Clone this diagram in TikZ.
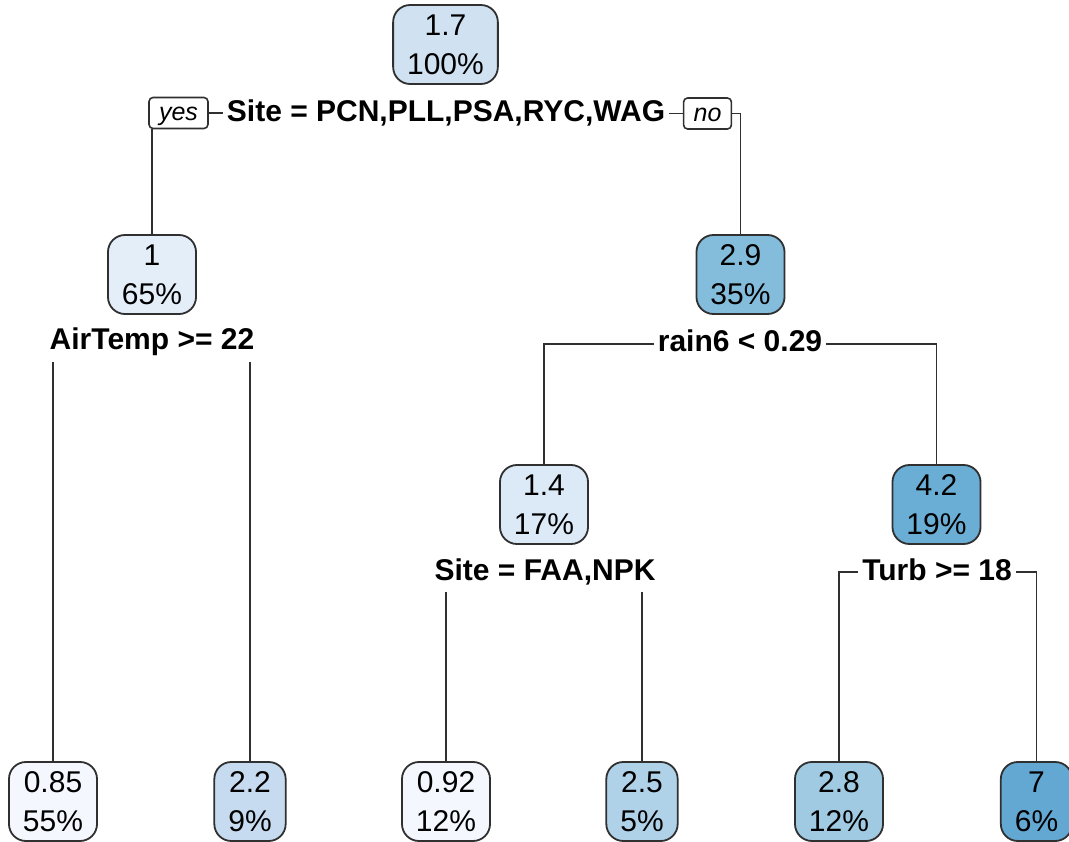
\documentclass[tikz,border=0pt]{standalone}
\usepackage{fontspec}
\setmainfont{Liberation Sans}
\definecolor{c0}{HTML}{D0E1F2}
\definecolor{c1}{HTML}{E4EEF9}
\definecolor{c2}{HTML}{84BCDB}
\definecolor{c3}{HTML}{DCE9F6}
\definecolor{c4}{HTML}{6AAED6}
\definecolor{f1}{HTML}{F4F8FE}
\definecolor{f2}{HTML}{C6DBEF}
\definecolor{f3}{HTML}{F4F8FE}
\definecolor{f4}{HTML}{B0D2E8}
\definecolor{f5}{HTML}{9FCAE1}
\definecolor{f6}{HTML}{63A8D3}
\definecolor{edgec}{HTML}{303030}
\begin{document}
\begin{tikzpicture}[x=1pt,y=-1pt,
  box/.style={draw=edgec, line width=1.8pt, rounded corners=17pt, minimum height=79pt,
    inner xsep=14pt, inner ysep=0pt, align=center, font=\fontsize{30}{39}\selectfont},
  split/.style={font=\bfseries\fontsize{30}{36}\selectfont, text height=22pt, text depth=6pt,
    inner xsep=4pt, inner ysep=6pt},
  yn/.style={draw=edgec, line width=1.6pt, rounded corners=4pt, fill=white,
    font=\itshape\fontsize{25}{30}\selectfont, minimum height=31pt, inner xsep=10pt, inner ysep=0pt,
    text height=17pt, text depth=1pt},
  conn/.style={draw=edgec, line width=1.8pt}]
\useasboundingbox (0,0) rectangle (1069,842);
% nodes
\node[box, fill=c0] (n0) at (445.5,44.5) {1.7\\100\%};
\node[split] (s0) at (446,114) {Site = PCN,PLL,PSA,RYC,WAG};
\node[yn] (yes) at (178.5,113) {yes};
\node[yn] (no) at (707.5,113.5) {no};
\node[box, fill=c1] (n1) at (152,274.5) {1\\65\%};
\node[box, fill=c2] (n2) at (740.5,274.5) {2.9\\35\%};
\node[split] (s1) at (152,342) {AirTemp >= 22};
\node[split] (s2) at (740,344) {rain6 < 0.29};
\node[box, fill=c3] (n3) at (544,504.5) {1.4\\17\%};
\node[box, fill=c4] (n4) at (936.5,504.5) {4.2\\19\%};
\node[split] (s3) at (545,572) {Site = FAA,NPK};
\node[split] (s4) at (937,572) {Turb >= 18};
\node[box, fill=f1] (l1) at (53,801.5) {0.85\\55\%};
\node[box, fill=f2] (l2) at (250,801.5) {2.2\\9\%};
\node[box, fill=f3] (l3) at (446,801.5) {0.92\\12\%};
\node[box, fill=f4] (l4) at (642,801.5) {2.5\\5\%};
\node[box, fill=f5] (l5) at (839,801.5) {2.8\\12\%};
\node[box, fill=f6] (l6) at (1036.5,801.5) {7\\6\%};
% connectors
\draw[conn] (yes.east) -- (yes.east -| s0.west);
\draw[conn] (no.west -| s0.east) -- (no.west);
\draw[conn] (n1.north |- yes.south) -- (n1.north);
\draw[conn] (no.east) -| (n2.north);
\draw[conn] (l1.north |- s1.south) -- (l1.north);
\draw[conn] (l2.north |- s1.south) -- (l2.north);
\draw[conn] (s2.west) -| (n3.north);
\draw[conn] (s2.east) -| (n4.north);
\draw[conn] (l3.north |- s3.south) -- (l3.north);
\draw[conn] (l4.north |- s3.south) -- (l4.north);
\draw[conn] (s4.west) -| (l5.north);
\draw[conn] (s4.east) -| (l6.north);
\end{tikzpicture}
\end{document}
